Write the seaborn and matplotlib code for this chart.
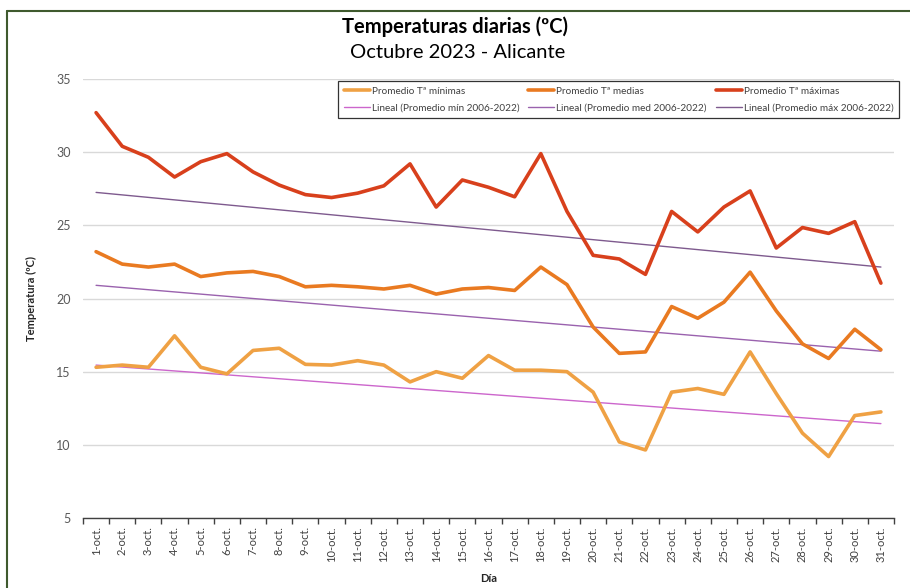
import matplotlib
matplotlib.use("Agg")
import matplotlib.pyplot as plt
import seaborn as sns
import pandas as pd
from matplotlib.lines import Line2D

# ---- data ----
days = [f"{d}-oct." for d in range(1, 32)]
t_min = [15.3, 15.45, 15.3, 17.45, 15.3, 14.85, 16.45, 16.6, 15.5, 15.45, 15.75, 15.45,
         14.3, 15.0, 14.55, 16.1, 15.1, 15.1, 15.0, 13.6, 10.2, 9.65, 13.6, 13.85,
         13.45, 16.35, 13.5, 10.8, 9.2, 12.0, 12.25]
t_med = [23.2, 22.35, 22.15, 22.35, 21.5, 21.75, 21.85, 21.5, 20.8, 20.9, 20.8, 20.65,
         20.9, 20.3, 20.65, 20.75, 20.55, 22.15, 20.95, 18.05, 16.25, 16.35, 19.45, 18.65,
         19.75, 21.8, 19.15, 16.9, 15.9, 17.9, 16.5]
t_max = [32.7, 30.4, 29.65, 28.3, 29.35, 29.9, 28.65, 27.75, 27.1, 26.9, 27.2, 27.7,
         29.2, 26.25, 28.1, 27.6, 26.95, 29.9, 25.95, 22.95, 22.7, 21.65, 25.95, 24.55,
         26.25, 27.35, 23.45, 24.85, 24.45, 25.25, 21.05]
trend_days = ["1-oct.", "31-oct."]
trend_min = [15.45, 11.45]
trend_med = [20.9, 16.4]
trend_max = [27.25, 22.15]

labels_data = ["Promedio Tª mínimas", "Promedio Tª medias", "Promedio Tª máximas"]
labels_trend = ["Lineal (Promedio mín 2006-2022)", "Lineal (Promedio med 2006-2022)",
                "Lineal (Promedio máx 2006-2022)"]
yticks = [5, 10, 15, 20, 25, 30, 35]

c_min, c_med, c_max = "#EFA144", "#E97A21", "#D8401C"
ct_min, ct_med, ct_max = "#CC66CC", "#9A62AE", "#7E5A8E"

sns.set_theme(style="white")
plt.rcParams['font.family'] = ['Lato', 'DejaVu Sans']

fig = plt.figure(figsize=(9.1, 5.88), dpi=100)
ax = fig.add_axes([83 / 910, 1 - 518 / 588, (894 - 83) / 910, (518 - 79) / 588])

pos = {d: i for i, d in enumerate(days)}
df = pd.DataFrame({"x": range(len(days)), "min": t_min, "med": t_med, "max": t_max})
tr = pd.DataFrame({"x": [pos[d] for d in trend_days], "min": trend_min,
                   "med": trend_med, "max": trend_max})

for col, c in [("min", ct_min), ("med", ct_med), ("max", ct_max)]:
    sns.lineplot(data=tr, x="x", y=col, color=c, lw=1.0, ax=ax, zorder=2)
for col, c in [("min", c_min), ("med", c_med), ("max", c_max)]:
    sns.lineplot(data=df, x="x", y=col, color=c, lw=2.6, ax=ax, zorder=3)

ax.set_xlim(-0.5, len(days) - 0.5)
ax.set_ylim(5, 35)
ax.set_yticks(yticks)
ax.set_yticklabels([str(v) for v in yticks], fontsize=9, color="#595959")
ax.set_xticks(range(len(days)))
ax.set_xticklabels(days, rotation=90, fontsize=8, color="#404040")
ax.set_xticks([i - 0.5 for i in range(len(days) + 1)], minor=True)
ax.tick_params(axis="x", which="major", length=0, pad=6)
ax.tick_params(axis="x", which="minor", length=4, direction="out", color="#404040", bottom=True)
ax.tick_params(axis="y", length=0, pad=9)
ax.grid(axis="y", color="#D9D9D9", lw=1.0)
ax.set_axisbelow(True)
for s in ["top", "right", "left"]:
    ax.spines[s].set_visible(False)
ax.spines["bottom"].set_color("#404040")
ax.spines["bottom"].set_linewidth(1.0)

ax.set_xlabel("Día", fontsize=8, fontweight="bold", labelpad=8)
ax.set_ylabel("Temperatura (ºC)", fontsize=8, fontweight="bold", labelpad=14)

handles = []
for lab_d, c_d, lab_t, c_t in zip(labels_data, [c_min, c_med, c_max], labels_trend, [ct_min, ct_med, ct_max]):
    handles.append(Line2D([], [], color=c_d, lw=2.6, label=lab_d))
    handles.append(Line2D([], [], color=c_t, lw=1.0, label=lab_t))
leg = ax.legend(handles=handles, ncol=3, loc="upper right", bbox_to_anchor=(1.0125, 1.006),
                fontsize=7.2, frameon=True, fancybox=False, edgecolor="#000000",
                handlelength=2.6, handletextpad=0.2, columnspacing=0.9, borderpad=0.55,
                labelspacing=0.75, labelcolor="#404040")
leg.get_frame().set_linewidth(0.9)

fig.text(455 / 910, 1 - 27 / 588, "Temperaturas diarias (ºC)", ha="center", va="center",
         fontsize=14.5, fontweight="bold", color="#000000")
fig.text(458 / 910, 1 - 52 / 588, "Octubre 2023 - Alicante", ha="center", va="center",
         fontsize=14.5, color="#000000")

# chart-area border (top and left edges visible)
fig.add_artist(Line2D([7 / 910, 7 / 910], [0, 1 - 11 / 588], transform=fig.transFigure,
                      color="#3F5A2E", lw=1.5))
fig.add_artist(Line2D([7 / 910, 1], [1 - 11 / 588, 1 - 11 / 588], transform=fig.transFigure,
                      color="#3F5A2E", lw=1.5))

fig.savefig("out.png", dpi=100, facecolor="white")
